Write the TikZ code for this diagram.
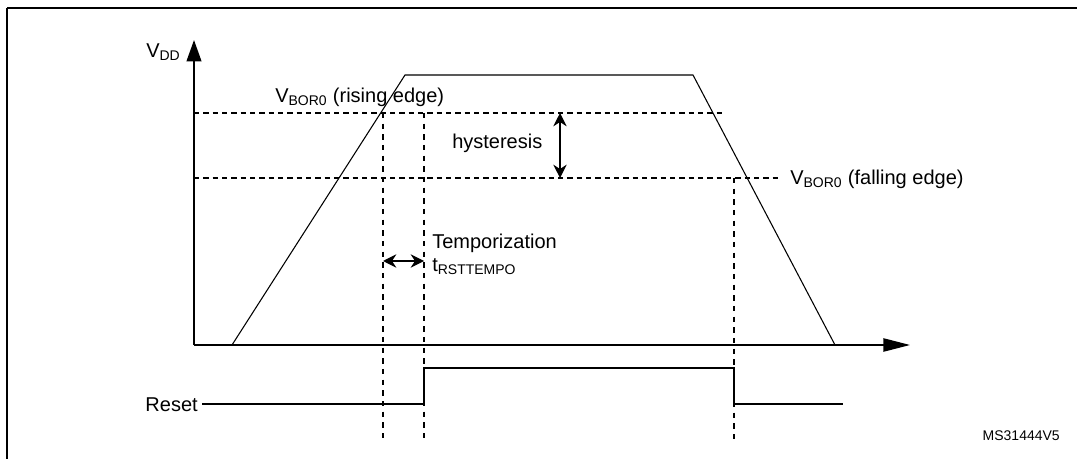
\documentclass[tikz,border=0pt]{standalone}
\usepackage{fontspec}
\setmainfont{Liberation Sans}
\usetikzlibrary{arrows.meta}
\begin{document}
\begin{tikzpicture}[x=0.75pt,y=-0.75pt,
  lbl/.style={inner sep=0pt,anchor=west,font=\fontsize{15}{17}\selectfont},
  thr/.style={line width=1pt,dash pattern=on 4pt off 3pt},
  dotv/.style={line width=1.2pt,dash pattern=on 4pt off 4pt},
  dbl/.style={line width=0.9pt,{Stealth[length=10pt,width=10pt]}-{Stealth[length=10pt,width=10pt]}}]
\useasboundingbox (0,0) rectangle (1077,459);
\draw[line width=1.2pt] (7,8) -- (1077,8) (7,8) -- (7,459);
% axes
\coordinate (o) at (194,345);
\coordinate (ytop) at (194,40);
\coordinate (xend) at (910,345);
\draw[line width=1.5pt,-{Triangle[length=16pt,width=11pt]}] (o) -- (ytop);
\draw[line width=1pt,-{Triangle[length=20pt,width=10pt]}] (o) -- (xend);
\node[lbl] (vdd) at (146,52) {V\textsubscript{DD}};
% trapezoid
\coordinate (t1) at (232,345); \coordinate (t2) at (405,75);
\coordinate (t3) at (693,75); \coordinate (t4) at (835,345);
\draw[line width=0.8pt] (t1) -- (t2) -- (t3) -- (t4);
% thresholds
\coordinate (r1) at (194,113); \coordinate (r2) at (725,113);
\coordinate (f1) at (194,178); \coordinate (f2) at (780,178);
\draw[thr] (r1) -- (r2);
\draw[thr] (f1) -- (f2);
\node[lbl] (rise) at (275,97) {V\textsubscript{BOR0} (rising edge)};
\node[lbl] (fall) at (790,179) {V\textsubscript{BOR0} (falling edge)};
% hysteresis
\coordinate (h1) at (560,113); \coordinate (h2) at (560,178);
\draw[dbl] (h1) -- (h2);
\node[lbl] (hys) at (452,143) {hysteresis};
% dotted verticals
\coordinate (d1a) at (383,113); \coordinate (d1b) at (383,438);
\coordinate (d2a) at (424,113); \coordinate (d2b) at (424,440);
\coordinate (d3a) at (734,178); \coordinate (d3b) at (734,440);
\draw[dotv] (d1a) -- (d1b); \draw[dotv] (d2a) -- (d2b); \draw[dotv] (d3a) -- (d3b);
% temporization
\coordinate (ta) at (383,261); \coordinate (tb) at (424,261);
\draw[dbl] (ta) -- (tb);
\node[lbl] (temp) at (432,243) {Temporization};
\node[lbl] (trst) at (432,267) {t\textsubscript{RSTTEMPO}};
% reset
\node[lbl,anchor=east] (reset) at (198,405) {Reset};
\coordinate (rs) at (202,404);
\draw[line width=2.2pt] (rs) -- (424,404) -- (424,368) -- (734,368) -- (734,404) -- (843,404);
\node[lbl,anchor=east,font=\fontsize{10.5}{12}\selectfont] (ms) at (1060,436) {MS31444V5};
\end{tikzpicture}
\end{document}
